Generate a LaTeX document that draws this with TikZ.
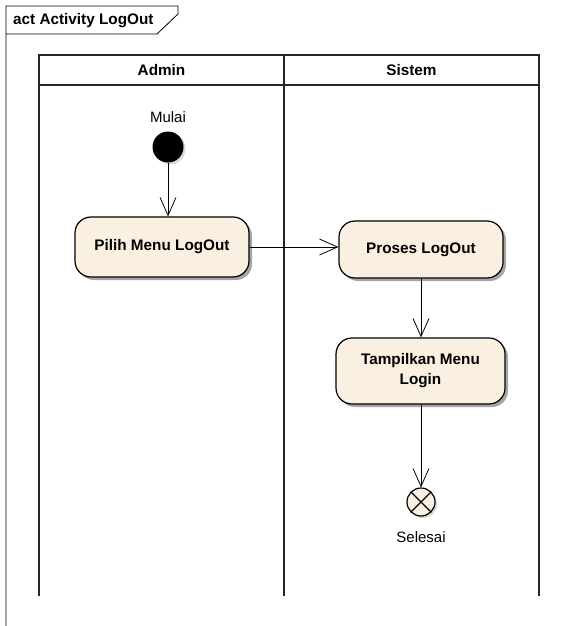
\documentclass[tikz,border=0pt]{standalone}
\usepackage{fontspec}
\setmainfont{Liberation Sans}
\usetikzlibrary{arrows.meta,shadows}
\definecolor{cream}{RGB}{250,240,226}
\begin{document}
\begin{tikzpicture}[x=1pt,y=-1pt,
  actbox/.style={draw=black,line width=1.2pt,fill=cream,rounded corners=16pt,
    font=\fontsize{15.3}{20}\selectfont\bfseries,align=center,inner sep=0pt,
    drop shadow={shadow xshift=3pt,shadow yshift=-3pt,fill=black!35,opacity=1}},
  lane/.style={line width=1.5pt,draw=black!85},
  flow/.style={line width=0.8pt,-{Straight Barb[length=18pt,width=16pt,line width=0.8pt]}},
  lbl/.style={font=\fontsize{15}{18}\selectfont,inner sep=0pt},
  hdr/.style={font=\fontsize{15.3}{18}\selectfont\bfseries,inner sep=0pt}]
\useasboundingbox (0,0) rectangle (568,626);
% frame
\draw[line width=0.8pt] (6,626) -- (6,6) -- (178,6) -- (178,14) -- (157,34) -- (6,34);
\node[hdr,anchor=west] (title) at (13,20.5) {act Activity LogOut};
% swimlanes
\draw[lane] (39,596) -- (39,55) -- (539,55) -- (539,596);
\draw[lane] (39,85) -- (539,85);
\draw[lane] (284,55) -- (284,596);
\node[hdr] (admin) at (161.5,70.5) {Admin};
\node[hdr] (sistem) at (411.5,70.5) {Sistem};
% nodes
\node[circle,fill=black,minimum size=31pt,inner sep=0pt,
  drop shadow={shadow xshift=2pt,shadow yshift=-2pt,fill=black!30}] (start) at (168,147) {};
\node[lbl] (mulai) at (168,117) {Mulai};
\node[actbox,minimum width=174pt,minimum height=60pt] (pilih) at (162,247) {Pilih Menu LogOut};
\node[actbox,minimum width=164pt,minimum height=57pt] (proses) at (421,249.5) {Proses LogOut};
\node[actbox,minimum width=169pt,minimum height=66pt] (tampil) at (420.5,371) {Tampilkan Menu\\Login};
\node[circle,draw=black,line width=1.2pt,fill=cream,minimum size=28pt,inner sep=0pt,
  drop shadow={shadow xshift=2pt,shadow yshift=-2pt,fill=black!30}] (end) at (421,502) {};
\draw[line width=1.2pt] (end.north west) -- (end.south east) (end.north east) -- (end.south west);
\node[lbl] (selesai) at (421,537) {Selesai};
% flows
\draw[flow] (start) -- (start |- pilih.north);
\draw[flow] (pilih.east) -- (pilih.east -| proses.west);
\draw[flow] (proses.south) -- (proses.south |- tampil.north);
\draw[flow] (tampil.south -| end.north) -- (end);
\end{tikzpicture}
\end{document}
